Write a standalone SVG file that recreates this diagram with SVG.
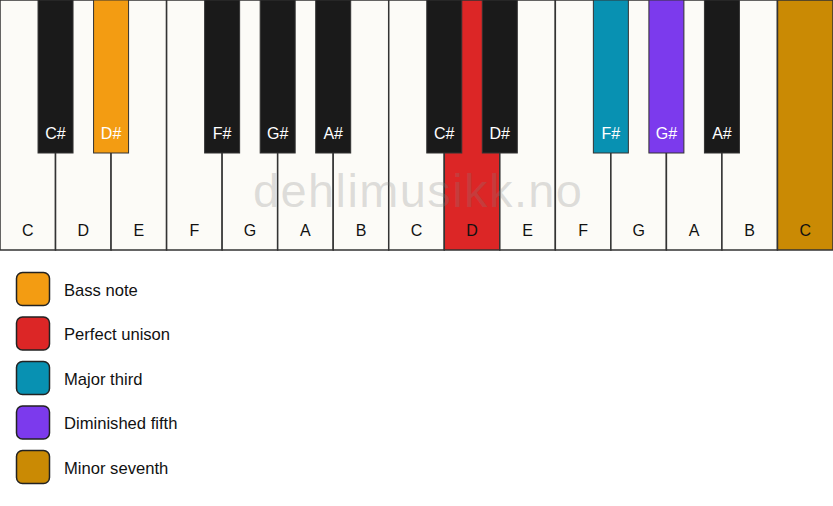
<svg xmlns="http://www.w3.org/2000/svg" width="833" height="506" viewBox="0 0 833 506">
<style>
.w{fill:#fcfbf7;stroke:#333;stroke-width:1.5}
.b{fill:#1a1a1a;stroke:#333;stroke-width:1}
.lw{font-family:"Liberation Sans",Arial,sans-serif;font-size:16px;fill:#111;text-anchor:middle}
.lb{font-family:"Liberation Sans",Arial,sans-serif;font-size:16px;fill:#fff;text-anchor:middle}
.lg{font-family:"Liberation Sans",Arial,sans-serif;font-size:16.6px;fill:#111}
.sw{stroke:#222;stroke-width:1.5}
.wm{font-family:"Liberation Sans",Arial,sans-serif;font-size:47px;fill:#808080;fill-opacity:0.25;text-anchor:middle}
</style>
<rect width="833" height="506" fill="#ffffff"/>
<g id="white-keys">
<g id="w0"><rect class="w" x="0" y="0" width="55.53" height="250"/><text class="lw" x="27.77" y="236">C</text></g>
<g id="w1"><rect class="w" x="55.53" y="0" width="55.53" height="250"/><text class="lw" x="83.3" y="236">D</text></g>
<g id="w2"><rect class="w" x="111.07" y="0" width="55.53" height="250"/><text class="lw" x="138.83" y="236">E</text></g>
<g id="w3"><rect class="w" x="166.6" y="0" width="55.53" height="250"/><text class="lw" x="194.37" y="236">F</text></g>
<g id="w4"><rect class="w" x="222.13" y="0" width="55.53" height="250"/><text class="lw" x="249.9" y="236">G</text></g>
<g id="w5"><rect class="w" x="277.67" y="0" width="55.53" height="250"/><text class="lw" x="305.43" y="236">A</text></g>
<g id="w6"><rect class="w" x="333.2" y="0" width="55.53" height="250"/><text class="lw" x="360.97" y="236">B</text></g>
<g id="w7"><rect class="w" x="388.73" y="0" width="55.53" height="250"/><text class="lw" x="416.5" y="236">C</text></g>
<g id="w8"><rect class="w" x="444.27" y="0" width="55.53" height="250" style="fill:#dc2626"/><text class="lw" x="472.03" y="236">D</text></g>
<g id="w9"><rect class="w" x="499.8" y="0" width="55.53" height="250"/><text class="lw" x="527.57" y="236">E</text></g>
<g id="w10"><rect class="w" x="555.33" y="0" width="55.53" height="250"/><text class="lw" x="583.1" y="236">F</text></g>
<g id="w11"><rect class="w" x="610.87" y="0" width="55.53" height="250"/><text class="lw" x="638.63" y="236">G</text></g>
<g id="w12"><rect class="w" x="666.4" y="0" width="55.53" height="250"/><text class="lw" x="694.17" y="236">A</text></g>
<g id="w13"><rect class="w" x="721.93" y="0" width="55.53" height="250"/><text class="lw" x="749.7" y="236">B</text></g>
<g id="w14"><rect class="w" x="777.47" y="0" width="55.53" height="250" style="fill:#ca8a04"/><text class="lw" x="805.23" y="236">C</text></g>
</g>
<g id="black-keys">
<g id="b1"><rect class="b" x="38.03" y="0" width="35" height="153"/><text class="lb" x="55.53" y="139">C#</text></g>
<g id="b2"><rect class="b" x="93.57" y="0" width="35" height="153" style="fill:#f39c12"/><text class="lb" x="111.07" y="139">D#</text></g>
<g id="b4"><rect class="b" x="204.63" y="0" width="35" height="153"/><text class="lb" x="222.13" y="139">F#</text></g>
<g id="b5"><rect class="b" x="260.17" y="0" width="35" height="153"/><text class="lb" x="277.67" y="139">G#</text></g>
<g id="b6"><rect class="b" x="315.7" y="0" width="35" height="153"/><text class="lb" x="333.2" y="139">A#</text></g>
<g id="b8"><rect class="b" x="426.77" y="0" width="35" height="153"/><text class="lb" x="444.27" y="139">C#</text></g>
<g id="b9"><rect class="b" x="482.3" y="0" width="35" height="153"/><text class="lb" x="499.8" y="139">D#</text></g>
<g id="b11"><rect class="b" x="593.37" y="0" width="35" height="153" style="fill:#0891b2"/><text class="lb" x="610.87" y="139">F#</text></g>
<g id="b12"><rect class="b" x="648.9" y="0" width="35" height="153" style="fill:#7c3aed"/><text class="lb" x="666.4" y="139">G#</text></g>
<g id="b13"><rect class="b" x="704.43" y="0" width="35" height="153"/><text class="lb" x="721.93" y="139">A#</text></g>
</g>
<text class="wm" x="417.5" y="207" textLength="329" lengthAdjust="spacing">dehlimusikk.no</text>
<g id="connectors"></g>
<g id="legend">
<g id="lg1"><rect class="sw" x="16.5" y="272.5" width="33" height="33" rx="6" fill="#f39c12"/><text class="lg" x="64" y="295.5">Bass note</text></g>
<g id="lg2"><rect class="sw" x="16.5" y="317" width="33" height="33" rx="6" fill="#dc2626"/><text class="lg" x="64" y="340">Perfect unison</text></g>
<g id="lg3"><rect class="sw" x="16.5" y="361.5" width="33" height="33" rx="6" fill="#0891b2"/><text class="lg" x="64" y="384.5">Major third</text></g>
<g id="lg4"><rect class="sw" x="16.5" y="406" width="33" height="33" rx="6" fill="#7c3aed"/><text class="lg" x="64" y="429">Diminished fifth</text></g>
<g id="lg5"><rect class="sw" x="16.5" y="450.5" width="33" height="33" rx="6" fill="#ca8a04"/><text class="lg" x="64" y="473.5">Minor seventh</text></g>
</g>
</svg>
